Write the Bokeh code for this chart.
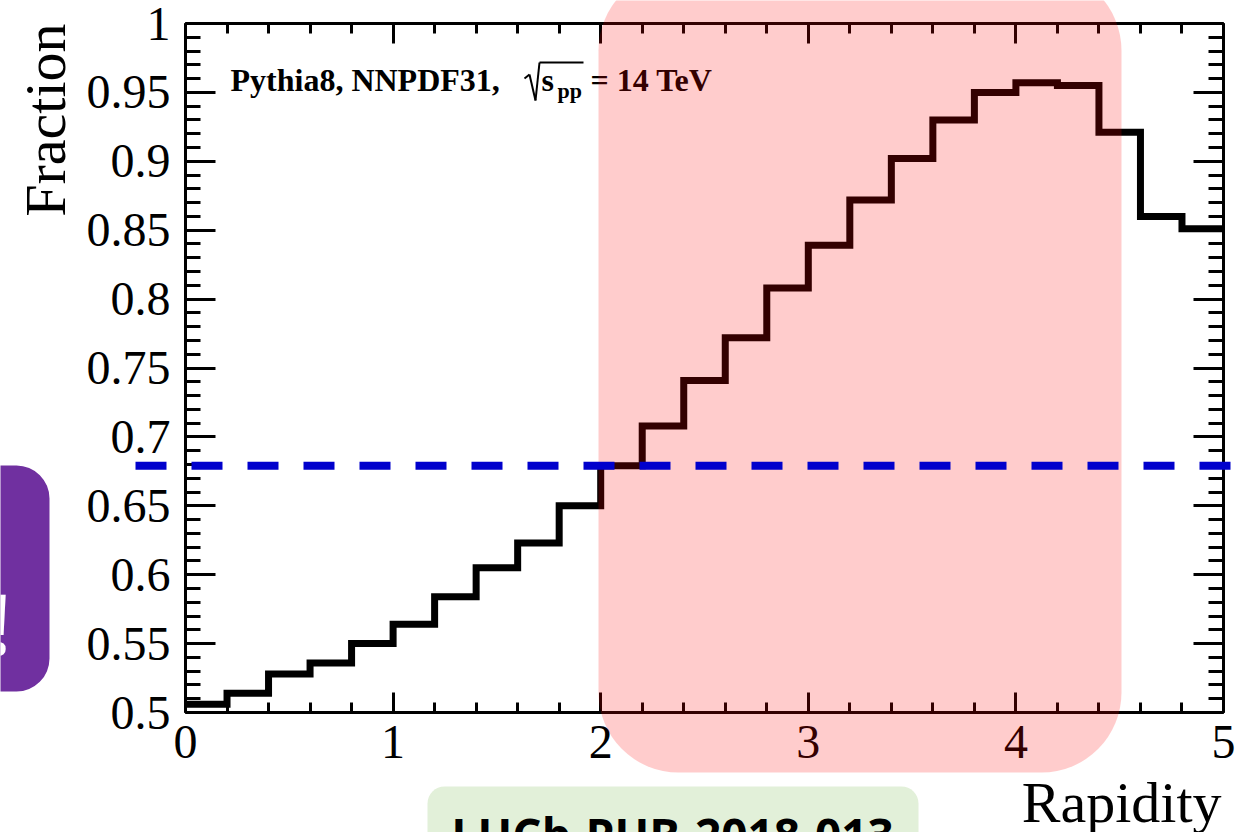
import math
import numpy as np
from bokeh.plotting import figure
from bokeh.models import (Range1d, LinearAxis, FixedTicker, CustomJSTickFormatter,
                          Label, BoxAnnotation, Arrow)
from bokeh.embed import file_html
from bokeh.resources import INLINE

# ---------------- data ----------------
bin_low = [0.0, 0.2, 0.4, 0.6, 0.8, 1.0, 1.2, 1.4, 1.6, 1.8, 2.0, 2.2, 2.4,
           2.6, 2.8, 3.0, 3.2, 3.4, 3.6, 3.8, 4.0, 4.2, 4.4, 4.6, 4.8]
bin_width = 0.2
fraction = [0.506, 0.514, 0.528, 0.536, 0.550, 0.564, 0.584, 0.605, 0.623,
            0.650, 0.679, 0.708, 0.741, 0.772, 0.808, 0.839, 0.872, 0.902,
            0.930, 0.950, 0.957, 0.955, 0.921, 0.860, 0.851]
threshold = 0.679
x_major = [0, 1, 2, 3, 4, 5]
x_minor = [round(0.2 * i, 1) for i in range(26)]
y_major = [0.5, 0.55, 0.6, 0.65, 0.7, 0.75, 0.8, 0.85, 0.9, 0.95, 1.0]
y_minor = [round(0.5 + 0.01 * i, 2) for i in range(51)]
x_title = "Rapidity"
y_title = "Fraction"
note_text = "LHCb-PUB-2018-013"

# axes box in canvas pixels, and the axis value limits
W, H = 1250, 832
FL, FR, FT, FB = 185, 1223, 23, 712
XMIN, XMAX, YMIN, YMAX = 0.0, 5.0, 0.5, 1.0
SX = (XMAX - XMIN) / (FR - FL)
SY = (YMAX - YMIN) / (FB - FT)
SERIF = "Liberation Serif"
U = "canvas"

# the frame covers the whole canvas; the axes are pinned at the data limits
x_range = Range1d(XMIN - FL * SX, XMAX + (W - FR) * SX)
y_range = Range1d(YMIN - (H - FB) * SY, YMAX + FT * SY)

p = figure(width=W, height=H, x_range=x_range, y_range=y_range,
           output_backend="svg", toolbar_location=None, min_border=0,
           x_axis_type=None, y_axis_type=None)
p.outline_line_color = None
p.background_fill_color = "white"
p.border_fill_color = "white"

fmt = CustomJSTickFormatter(code="""
    let s = tick.toFixed(2);
    s = s.replace(/0+$/, '').replace(/\\.$/, '');
    return s;
""")


def make_axis(major, minor, tin, tmin, labels, loc, bounds):
    ax = LinearAxis(fixed_location=loc, bounds=bounds)
    ax.ticker = FixedTicker(ticks=major, minor_ticks=minor)
    ax.axis_line_width = 3
    ax.axis_line_color = "black"
    ax.major_tick_line_width = 3
    ax.minor_tick_line_width = 3
    ax.major_tick_line_color = "black"
    ax.minor_tick_line_color = "black"
    ax.major_tick_in = tin
    ax.major_tick_out = 0
    ax.minor_tick_in = tmin
    ax.minor_tick_out = 0
    ax.formatter = fmt
    if labels:
        ax.major_label_text_font = SERIF
        ax.major_label_text_font_size = "48px"
        ax.major_label_text_color = "black"
    else:
        ax.major_label_text_font_size = "1px"
        ax.major_label_text_color = None
    return ax


bx = make_axis(x_major, x_minor, 20, 10, True, YMIN, (XMIN, XMAX))
bx.major_label_standoff = 13
p.add_layout(bx, "below")
tx = make_axis(x_major, x_minor, 20, 10, False, YMAX, (XMIN, XMAX))
p.add_layout(tx, "above")
ly = make_axis(y_major, y_minor, 30, 15, True, XMIN, (YMIN, YMAX))
ly.major_label_standoff = 15
p.add_layout(ly, "left")
ry = make_axis(y_major, y_minor, 30, 15, False, XMAX, (YMIN, YMAX))
p.add_layout(ry, "right")

# ---------------- histogram (step line) ----------------
lo = np.array(bin_low)
hi = lo + bin_width
vals = np.array(fraction)
xs = np.column_stack([lo, hi]).ravel()
ys = np.column_stack([vals, vals]).ravel()
p.line(xs, ys, line_color="black", line_width=7, line_join="miter")


# ---------------- texts (canvas pixel positions, px/py = baseline) ----------------
def lab(px, py, text, size, bold=False, align="left", font=SERIF, color="black",
        angle=0.0, level="annotation"):
    shift = 0.31 * size
    if angle:
        px = px - shift
    else:
        py = py - shift
    l = Label(x=px, y=py, x_units=U, y_units=U, text=text, text_font=font,
              text_font_size=f"{size}px",
              text_font_style="bold" if bold else "normal",
              text_align=align, text_baseline="alphabetic", text_color=color,
              angle=angle, level=level)
    p.add_layout(l)
    return l


def seg(x0, y0, x1, y1, color="black", width=2, level="annotation"):
    a = Arrow(end=None, x_start=x0, y_start=y0, x_end=x1, y_end=y1,
              start_units=U, end_units=U, line_color=color, line_width=width,
              level=level)
    p.add_layout(a)
    return a


lab(230, 89, "Pythia8, NNPDF31,", 32, bold=True)
rad = [(524, 78), (529, 74), (535, 100), (539, 62), (583, 62)]
for (a0, b0), (a1, b1) in zip(rad[:-1], rad[1:]):
    seg(a0, b0, a1, b1, width=2)
lab(541, 89, "s", 32, bold=True)
lab(557, 97, "pp", 22, bold=True)
lab(590, 89, "= 14 TeV", 32, bold=True)

lab(63, 23, y_title, 58, align="right", angle=math.pi / 2)
lab(1221, 820, x_title, 58, align="right")

# ---------------- slide overlays ----------------
p.add_layout(BoxAnnotation(left=-60, right=49, top=465, bottom=691,
                           left_units=U, right_units=U, top_units=U, bottom_units=U,
                           fill_color="#7030A0", fill_alpha=1.0, line_color=None,
                           border_radius=33, level="annotation"))
lab(10, 648, "!", 84, bold=True, align="right", font="Open Sans", color="white")

p.add_layout(BoxAnnotation(left=427, right=918, top=786, bottom=900,
                           left_units=U, right_units=U, top_units=U, bottom_units=U,
                           fill_color="#E2F0D9", fill_alpha=1.0, line_color=None,
                           border_radius=17, level="annotation"))
lab(672, 848, note_text, 46, bold=True, align="center", font="Open Sans")

p.add_layout(BoxAnnotation(left=598, right=1121, top=-30, bottom=772,
                           left_units=U, right_units=U, top_units=U, bottom_units=U,
                           fill_color="red", fill_alpha=0.2, line_color=None,
                           border_radius=80, level="overlay"))

# threshold line at the data value, drawn from just left of the axis to past it
p.add_layout(Arrow(end=None, x_start=XMIN - 50 * SX, y_start=threshold,
                   x_end=XMAX + 9 * SX, y_end=threshold,
                   line_color="#0000CC", line_width=8,
                   line_dash="31 25", level="overlay"))

open("out.html", "w").write(file_html(p, INLINE))
